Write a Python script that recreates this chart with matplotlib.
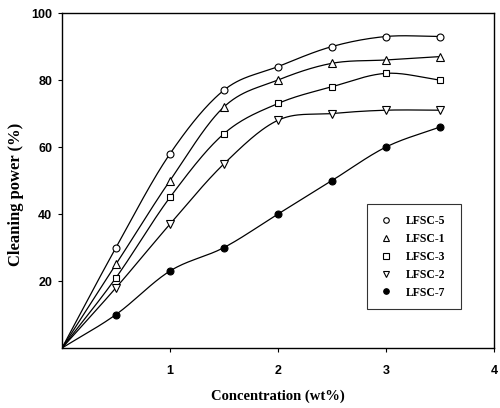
import numpy as np
import matplotlib
matplotlib.use("Agg")
import matplotlib.pyplot as plt

conc = [0.0, 0.5, 1.0, 1.5, 2.0, 2.5, 3.0, 3.5]
lfsc5 = [0, 30, 58, 77, 84, 90, 93, 93]
lfsc1 = [0, 25, 50, 72, 80, 85, 86, 87]
lfsc3 = [0, 21, 45, 64, 73, 78, 82, 80]
lfsc2 = [0, 18, 37, 55, 68, 70, 71, 71]
lfsc7 = [0, 10, 23, 30, 40, 50, 60, 66]
names = ["LFSC-5", "LFSC-1", "LFSC-3", "LFSC-2", "LFSC-7"]
xticks = [1, 2, 3, 4]
yticks = [20, 40, 60, 80, 100]


def smooth(x, y, n=30):
    # Catmull-Rom spline through the data points (for drawing the curve only)
    x = np.asarray(x, float)
    y = np.asarray(y, float)
    px = np.concatenate([[2 * x[0] - x[1]], x, [2 * x[-1] - x[-2]]])
    py = np.concatenate([[2 * y[0] - y[1]], y, [2 * y[-1] - y[-2]]])
    xs, ys = [], []
    t = np.linspace(0, 1, n, endpoint=False)
    for i in range(1, len(px) - 2):
        for P, out in ((px, xs), (py, ys)):
            p0, p1, p2, p3 = P[i - 1], P[i], P[i + 1], P[i + 2]
            v = 0.5 * ((2 * p1) + (-p0 + p2) * t + (2 * p0 - 5 * p1 + 4 * p2 - p3) * t ** 2
                       + (-p0 + 3 * p1 - 3 * p2 + p3) * t ** 3)
            out.extend(v)
    xs.append(x[-1])
    ys.append(y[-1])
    return np.array(xs), np.array(ys)


fig = plt.figure(figsize=(5.0, 4.08), dpi=100)
ax = fig.add_axes([0.124, 0.147, 0.864, 0.821])

series = [lfsc5, lfsc1, lfsc3, lfsc2, lfsc7]
markers = ["o", "^", "s", "v", "o"]
faces = ["white", "white", "white", "white", "black"]
sizes = [5.0, 5.2, 4.8, 5.2, 5.0]
for vals, m, fc, ms, nm in zip(series, markers, faces, sizes, names):
    sx, sy = smooth(conc, vals)
    ax.plot(sx, sy, color="black", lw=0.9, zorder=2)
    ax.plot(conc[1:], vals[1:], linestyle="none", marker=m, markersize=ms,
            markerfacecolor=fc, markeredgecolor="black", markeredgewidth=0.8,
            zorder=3, label=nm)

ax.set_xlim(0, 4)
ax.set_ylim(0, 100)
ax.set_xticks(xticks)
ax.set_yticks(yticks)
ax.tick_params(direction="out", length=3, width=0.8, labelsize=9)
ax.tick_params(axis="x", pad=9)
ax.tick_params(axis="y", pad=4)
for lab in ax.get_xticklabels() + ax.get_yticklabels():
    lab.set_fontfamily("Liberation Sans")
    lab.set_fontweight("bold")
for s in ax.spines.values():
    s.set_linewidth(1.0)

ax.set_xlabel("Concentration (wt%)", fontfamily="Liberation Serif",
              fontweight="bold", fontsize=10.5)
ax.xaxis.set_label_coords(0.5, -0.125)
ax.set_ylabel("Cleaning power (%)", fontfamily="Liberation Serif",
              fontweight="bold", fontsize=12)
ax.yaxis.set_label_coords(-0.087, 0.46)

leg = ax.legend(loc="lower left", bbox_to_anchor=(0.706, 0.116, 0.218, 0.307),
                mode="expand", borderaxespad=0, frameon=True, fancybox=False,
                edgecolor="black",
                prop={"family": "Liberation Serif", "weight": "bold", "size": 8.5},
                markerscale=0.8, handlelength=1.5, handletextpad=0.9,
                labelspacing=0.5, borderpad=0.9)
leg.get_frame().set_linewidth(0.8)

fig.savefig("out.png", dpi=100)
